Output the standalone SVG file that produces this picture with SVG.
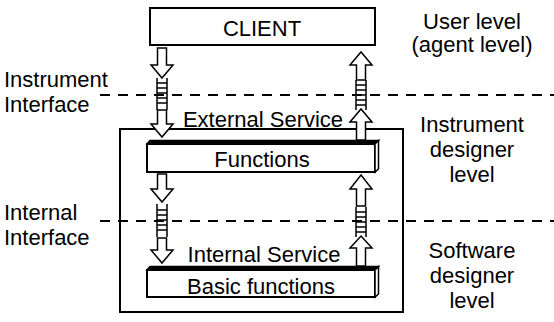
<svg xmlns="http://www.w3.org/2000/svg" width="554" height="322" viewBox="0 0 554 322">
<style>
text{font-family:"Liberation Sans",Arial,sans-serif;font-size:22px;fill:#000}
.c{text-anchor:middle}
.box{fill:#fff;stroke:#000;stroke-width:2}
.dash{stroke:#000;stroke-width:2;stroke-dasharray:10 8;fill:none}
.arr{fill:#fff;stroke:#000;stroke-width:1.5;stroke-linejoin:miter}
.lad{stroke:#000;stroke-width:1.5;fill:none}
</style>
<rect width="554" height="322" fill="#fff"/>
<g id="levels">
<line class="dash" x1="100" y1="95" x2="554" y2="95"/>
<line class="dash" x1="100" y1="221" x2="554" y2="221"/>
</g>
<g id="labels">
<text x="4" y="87">Instrument</text>
<text x="4" y="112">Interface</text>
<text x="4" y="220">Internal</text>
<text x="4" y="245">Interface</text>
<text class="c" x="472" y="29">User level</text>
<text class="c" x="472" y="52">(agent level)</text>
<text class="c" x="472" y="132">Instrument</text>
<text class="c" x="472" y="157">designer</text>
<text class="c" x="472" y="182">level</text>
<text class="c" x="472" y="258">Software</text>
<text class="c" x="472" y="283">designer</text>
<text class="c" x="472" y="308">level</text>
</g>
<g id="client">
<rect class="box" x="150" y="8" width="225" height="37"/>
<text class="c" x="262" y="36">CLIENT</text>
</g>
<g id="instrument">
<rect x="120" y="129" width="283" height="183" fill="none" stroke="#000" stroke-width="2"/>
</g>
<g id="functions">
<rect class="box" x="147" y="144" width="228" height="28"/>
<polygon points="147,144 150,140.5 378.5,140.5 375,144" fill="#000" stroke="#000" stroke-width="1.5"/>
<polygon points="375,144 378.5,140.5 378.5,169 375,172" fill="#fff" stroke="#000" stroke-width="1.5"/>
<text class="c" x="262" y="167">Functions</text>
</g>
<g id="basic">
<rect class="box" x="147" y="270" width="228" height="27"/>
<polygon points="147,270 150,266.5 378.5,266.5 375,270" fill="#000" stroke="#000" stroke-width="1.5"/>
<polygon points="375,270 378.5,266.5 378.5,294 375,297" fill="#fff" stroke="#000" stroke-width="1.5"/>
<text class="c" x="261" y="294">Basic functions</text>
</g>
<g id="service-labels">
<text class="c" x="263" y="127">External Service</text>
<text class="c" x="264" y="262">Internal Service</text>
</g>
<g id="connectors">
<path class="arr" d="M157.5,48 H166.5 V65 H173 L162,78 L151,65 H157.5 Z"/>
<path class="lad" d="M157,78 V110 M167,78 V110 M157,83 H167 M157,88 H167 M157,93 H167 M157,98 H167 M157,103 H167"/>
<path class="arr" d="M157.5,110 H166.5 V124 H173 L162,137 L151,124 H157.5 Z"/>
<path class="arr" d="M356.5,80 H365.5 V65 H372 L361,52 L350,65 H356.5 Z"/>
<path class="lad" d="M356,80 V110 M366,80 V110 M356,85 H366 M356,90 H366 M356,95 H366 M356,100 H366 M356,105 H366"/>
<path class="arr" d="M356.5,140 H365.5 V122 H372 L361,109 L350,122 H356.5 Z"/>
<path class="arr" d="M157.5,174 H166.5 V189 H173 L162,202 L151,189 H157.5 Z"/>
<path class="lad" d="M157,204 V237 M167,204 V237 M157,210 H167 M157,215 H167 M157,220 H167 M157,225 H167 M157,230 H167"/>
<path class="arr" d="M157.5,238 H166.5 V250 H173 L162,263 L151,250 H157.5 Z"/>
<path class="arr" d="M356.5,206 H365.5 V189 H372 L361,175 L350,189 H356.5 Z"/>
<path class="lad" d="M356,207 V237 M366,207 V237 M356,212 H366 M356,217 H366 M356,222 H366 M356,227 H366 M356,232 H366"/>
<path class="arr" d="M356.5,266 H365.5 V248 H372 L361,236 L350,248 H356.5 Z"/>
</g>
</svg>
